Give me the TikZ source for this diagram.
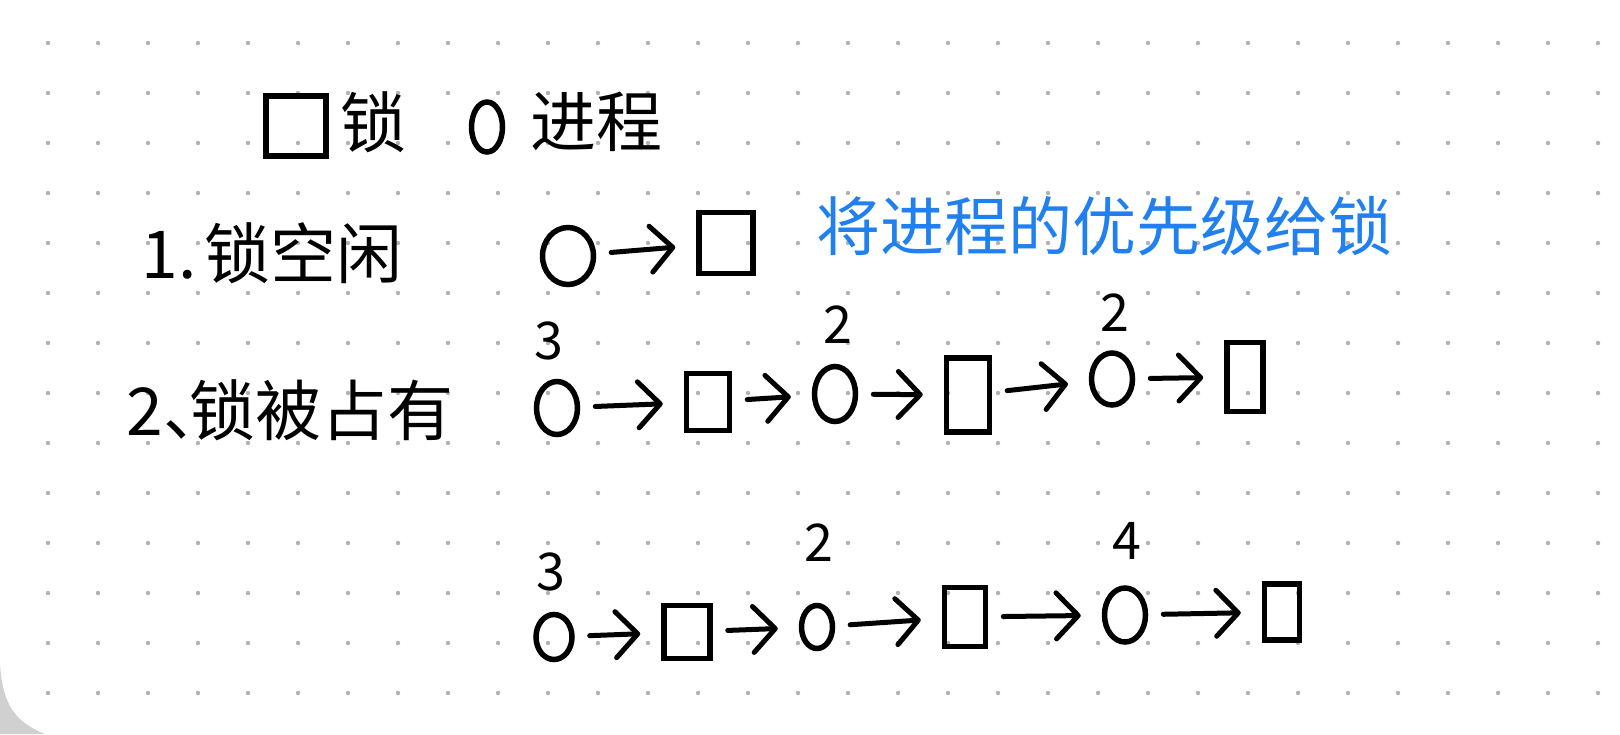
\documentclass[tikz,border=0pt]{standalone}
\usepackage{fontspec}
\newfontfamily\cjk{Noto Sans CJK SC}
\usetikzlibrary{arrows.meta,shapes.geometric}
\definecolor{dotc}{RGB}{178,178,178}
\definecolor{inkblue}{RGB}{32,128,240}
\definecolor{cornergray}{RGB}{208,208,208}
\begin{document}
\begin{tikzpicture}[x=1pt,y=-1pt,
  proc/.style={ellipse,draw,line width=5.5pt,inner sep=0pt},
  lockbox/.style={rectangle,draw,line width=5.5pt,inner sep=0pt},
  txt/.style={inner sep=0pt,font=\cjk\fontsize{66}{70}\selectfont},
  num/.style={inner sep=0pt,font=\cjk\fontsize{52}{56}\selectfont},
  note/.style={inner sep=0pt,text=inkblue,font=\cjk\fontsize{64}{70}\selectfont},
  arr/.style={line width=5pt,line cap=round,-{Straight Barb[length=22pt,width=46pt,line cap=round,line join=round]},shorten <=15pt,shorten >=21pt},
]
\fill[white] (0,0) rectangle (1620,734);
\useasboundingbox (0,0) rectangle (1620,734);
\fill[cornergray] (0,665) .. controls (3,705) and (15,722) .. (45,734) -- (0,734) -- cycle;
\foreach \i in {0,...,31}{
  \foreach \j in {0,...,13}{
    \fill[dotc] ({48+50*\i},{43+50*\j}) circle[radius=2.2pt];
  }
}
% title
\node[lockbox,minimum width=60pt,minimum height=60pt] (tlock) at (296,126) {};
\node[txt] (tlocktxt) at (373,122) {锁};
\node[proc,minimum width=31pt,minimum height=50pt] (tproc) at (487,127) {};
\node[txt] (tproctxt) at (596,122) {进程};
% line 1
\node[txt] (l1) at (272,253) {1.\hspace{8pt}锁空闲};
\node[proc,minimum width=51pt,minimum height=57pt] (p0) at (568,256) {};
\node[lockbox,minimum width=54pt,minimum height=61pt] (k0) at (726,243) {};
\draw[arr] (p0) -- (k0);
\node[note] (note) at (1104,226) {将进程的优先级给锁};
% line 2
\node[txt] (l2) at (290,410) {2、\kern-0.6em 锁被占有};
% chain 1
\node[num] (n11) at (549,341) {3};
\node[proc,minimum width=41pt,minimum height=53pt] (p11) at (557,408) {};
\node[lockbox,minimum width=43pt,minimum height=57pt] (k11) at (708,402) {};
\node[num] (n12) at (838,325) {2};
\node[proc,minimum width=41pt,minimum height=55pt] (p12) at (835,394) {};
\node[lockbox,minimum width=43pt,minimum height=74pt] (k12) at (968,395) {};
\node[num] (n13) at (1115,313) {2};
\node[proc,minimum width=41pt,minimum height=52pt] (p13) at (1112,379) {};
\node[lockbox,minimum width=36pt,minimum height=69pt] (k13) at (1245,377) {};
\draw[arr] (p11) -- (k11);
\draw[arr] (k11) -- (p12);
\draw[arr] (p12) -- (k12);
\draw[arr] (k12) -- (p13);
\draw[arr] (p13) -- (k13);
% chain 2
\node[num] (n21) at (551,572) {3};
\node[proc,minimum width=36pt,minimum height=45pt] (p21) at (554,637) {};
\node[lockbox,minimum width=46pt,minimum height=53pt] (k21) at (687,632) {};
\node[num] (n22) at (819,543) {2};
\node[proc,minimum width=31pt,minimum height=43pt] (p22) at (817,627) {};
\node[lockbox,minimum width=41pt,minimum height=59pt] (k22) at (965,617) {};
\node[num] (n23) at (1127,541) {4};
\node[proc,minimum width=41pt,minimum height=54pt] (p23) at (1125,615) {};
\node[lockbox,minimum width=35pt,minimum height=56pt] (k23) at (1282,612) {};
\draw[arr] (p21) -- (k21);
\draw[arr] (k21) -- (p22);
\draw[arr] (p22) -- (k22);
\draw[arr] (k22) -- (p23);
\draw[arr] (p23) -- (k23);
\end{tikzpicture}
\end{document}
